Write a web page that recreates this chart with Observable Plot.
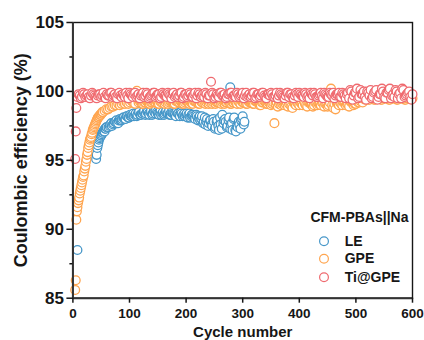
<!DOCTYPE html>
<html>
<head>
<meta charset="utf-8">
<script src="https://cdn.jsdelivr.net/npm/d3@7"></script>
<script src="https://cdn.jsdelivr.net/npm/@observablehq/plot@0.6"></script>
<style>
  html, body { margin: 0; padding: 0; background: #fff; }
  svg { display: block; }
</style>
</head>
<body>
<div id="chart"></div>
<script>
// ---------- data ----------
const seriesNames = ["LE", "GPE", "Ti@GPE"];
const seriesColors = ["#4596C8", "#FFA54F", "#EF6A6F"];
const xTicks = [0, 100, 200, 300, 400, 500, 600];
const yTicks = [85, 90, 95, 100, 105];
const yMinorTicks = [87.5, 92.5, 97.5, 102.5];

// LE (blue)
const leEarlyCycles = [8];
const leEarlyValues = [88.5];
const leRiseStart = 40, leRiseStep = 1;
const leRiseValues = [95.7, 95.1, 95.4, 95.9, 96.1, 96.3, 96.5, 96.6, 96.7, 96.8, 96.8, 96.9, 97.0, 97.0, 97.1, 97.2, 97.1, 97.3, 97.3, 97.4, 97.4];
const leMidStart = 63, leMidStep = 3;
const leMidValues = [97.4, 97.6, 97.5, 97.7, 97.8, 97.7, 97.9, 97.9, 98.0, 98.1, 98.0, 98.2, 98.1, 98.2, 98.3, 98.2, 98.4, 98.3, 98.5, 98.3, 98.4, 98.6, 98.4, 98.5, 98.3, 98.6, 98.4, 98.5, 98.7, 98.4];
const leLateStart = 153, leLateStep = 3;
const leLateValues = [
  98.5, 98.3, 98.5, 98.4, 98.6, 98.4, 98.3, 98.5, 98.4, 98.3,
  98.5, 98.4, 98.2, 98.4, 98.3, 98.2, 98.4, 98.3, 98.1, 98.3,
  98.2, 98.0, 98.2, 98.1, 97.9, 98.2, 97.8, 97.6, 98.0, 97.7,
  97.9, 97.5, 97.8, 97.4, 97.9, 97.2, 97.6, 98.3, 97.9, 97.8,
  97.5, 98.1, 97.6, 97.2, 98.1, 97.1, 97.4, 97.6, 97.9, 98.2,
  97.8];
const leSecondStart = 65, leSecondStep = 3;
const leSecondValues = [
  97.5, 97.7, 97.6, 97.8, 97.9, 97.7, 98.0, 97.9, 98.1, 98.0,
  98.2, 98.1, 98.3, 98.2, 98.4, 98.3, 98.2, 98.5, 98.3, 98.4,
  98.5, 98.3, 98.6, 98.4, 98.5, 98.3, 98.6, 98.4, 98.5, 98.3,
  98.6, 98.4, 98.3, 98.5, 98.4, 98.6, 98.3, 98.5, 98.4, 98.2,
  98.4, 98.3, 98.5, 98.2, 98.4, 98.3, 98.1, 98.4, 98.2, 98.3,
  98.1, 98.3, 97.9, 98.2, 98.0, 97.7, 98.1, 97.8, 97.5, 97.9,
  97.6, 98.0, 97.3, 97.8, 97.5, 98.1, 97.3, 97.7, 98.0, 97.4,
  97.9, 97.3, 97.7, 98.0, 97.2, 97.5, 97.8, 97.3, 98.0, 97.6];
const leOutlierCycles = [278];
const leOutlierValues = [100.3];

// GPE (orange)
const gpeRiseStart = 4, gpeRiseStep = 1;
const gpeRiseValues = [
  85.6, 86.3, 90.7, 91.3, 91.6, 91.9, 92.1, 92.3, 92.6, 92.8,
  93.0, 93.2, 93.4, 93.6, 93.8, 93.9, 94.2, 94.4, 94.6, 94.9,
  95.1, 95.4, 95.6, 95.9, 96.1, 96.3, 96.5, 96.6, 96.7, 96.9,
  97.0, 97.2, 97.3, 97.4, 97.5, 97.6, 97.7, 97.8, 97.9, 98.0,
  98.1, 98.1, 98.2, 98.2, 98.3, 98.3, 98.4, 98.4, 98.5, 98.5];
const gpeMidStart = 56, gpeMidStep = 3;
const gpeMidValues = [98.6, 98.7, 98.7, 98.8, 98.9, 98.9, 99.0, 99.0, 99.1, 99.0, 99.1, 99.2, 99.1, 99.2, 99.1, 99.2, 99.3, 99.2, 99.1, 100.05];
const gpeLateStart = 116, gpeLateStep = 4;
const gpeLateValues = [
  99.2, 99.3, 99.1, 99.2, 99.3, 99.1, 99.2, 99.2, 99.3, 99.1,
  99.2, 99.3, 99.2, 99.1, 99.3, 99.2, 99.1, 99.3, 99.2, 99.2,
  99.1, 99.3, 99.2, 99.2, 99.1, 99.3, 99.2, 99.1, 99.2, 99.3,
  99.2, 99.1, 99.3, 99.2, 99.1, 99.2, 99.3, 99.2, 99.1, 99.2,
  99.3, 99.1, 99.2, 99.2, 99.3, 99.1, 99.2, 99.3, 99.1, 99.2,
  99.2, 99.1, 99.3, 99.2, 99.0, 99.2, 99.3, 99.1, 99.2, 99.1,
  97.7, 99.2, 99.1, 99.0, 99.2, 99.1, 98.9, 99.2, 98.8, 99.1,
  99.2, 99.0, 99.1, 99.3, 99.0, 99.2, 99.1, 98.9, 99.2, 99.0,
  99.1, 99.2, 98.9, 99.1, 99.0, 100.2, 98.8, 98.7, 99.1, 99.2,
  99.0, 99.2, 99.1, 98.9, 99.2, 99.0, 99.1, 99.2, 99.3, 99.2,
  99.4, 99.5, 99.4, 99.5, 99.4, 99.6, 99.5, 99.4, 99.5, 99.6,
  99.5, 99.4, 99.6, 99.5, 99.4, 99.5, 99.6, 99.5, 99.4, 99.5,
  99.6, 99.5];
const gpeSecondStart = 118, gpeSecondStep = 4;
const gpeSecondValues = [
  99.3, 99.1, 99.2, 99.3, 99.1, 99.2, 99.3, 99.2, 99.1, 99.3,
  99.2, 99.1, 99.3, 99.2, 99.2, 99.1, 99.3, 99.2, 99.3, 99.1,
  99.2, 99.3, 99.1, 99.2, 99.3, 99.2, 99.1, 99.3, 99.2, 99.1,
  99.3, 99.2, 99.1, 99.3, 99.2, 99.2, 99.1, 99.3, 99.2, 99.3,
  99.1, 99.2, 99.3, 99.1, 99.2, 99.3, 99.2, 99.1, 99.3, 99.2,
  99.1, 99.3, 99.2, 99.0, 99.2, 99.3, 99.1, 99.2, 99.0, 99.2,
  99.1, 98.9, 99.2, 99.1, 99.0, 99.2, 99.1, 98.9, 99.2, 99.0,
  99.1, 99.2, 99.0, 99.1, 98.9, 99.2, 99.1, 99.0, 99.2, 99.1,
  99.0, 99.2, 99.1, 98.9, 99.2, 99.0, 99.1, 99.2, 99.0, 99.1,
  99.2, 99.0, 99.1, 99.3, 99.2, 99.1, 99.3, 99.2, 99.4, 99.5,
  99.5, 99.4, 99.6, 99.5, 99.4, 99.5, 99.6, 99.4, 99.5, 99.6,
  99.4, 99.5, 99.6, 99.5, 99.4, 99.6, 99.5, 99.4, 99.5, 99.6,
  99.5];

// Ti@GPE (red)
const tiEarlyCycles = [4, 5, 6];
const tiEarlyValues = [95.1, 97.1, 98.8];
const tiStart = 8, tiStep = 4;
const tiValues = [
  99.6, 99.7, 99.6, 99.8, 99.7, 99.6, 99.7, 99.8, 99.6, 99.7,
  99.8, 99.7, 99.6, 99.8, 99.7, 99.9, 99.7, 99.6, 99.8, 99.7,
  99.8, 99.6, 99.7, 99.9, 99.7, 99.8, 99.6, 99.8, 99.7, 99.9,
  99.7, 99.8, 99.6, 99.8, 99.9, 99.7, 99.8, 99.6, 99.8, 99.7,
  99.9, 99.7, 99.8, 99.6, 99.8, 99.7, 99.9, 99.6, 99.8, 99.7,
  99.8, 99.6, 99.9, 99.7, 99.8, 99.7, 99.6, 99.8, 99.7, 100.7,
  99.8, 99.6, 99.7, 99.9, 99.7, 99.8, 99.6, 99.8, 99.9, 99.7,
  99.6, 99.8, 99.7, 99.9, 99.7, 99.6, 99.8, 99.7, 99.9, 99.6,
  99.8, 99.7, 99.9, 99.6, 99.8, 99.7, 99.8, 99.6, 99.9, 99.7,
  99.8, 99.6, 99.7, 99.9, 99.8, 99.6, 99.7, 99.8, 99.9, 99.7,
  99.6, 99.8, 99.7, 99.9, 99.7, 99.8, 99.6, 99.8, 99.7, 99.9,
  99.7, 99.6, 99.8, 99.9, 99.7, 99.8, 99.6, 99.9, 99.7, 99.8,
  99.5, 100.0, 99.7, 99.9, 99.5, 100.1, 99.8, 99.6, 100.0, 99.7,
  99.5, 99.9, 100.1, 99.6, 99.8, 100.0, 99.5, 99.9, 100.2, 99.7,
  99.6, 100.0, 99.8, 99.5, 100.1, 99.7, 99.9, 99.6, 99.8];
const tiSecondStart = 10, tiSecondStep = 4;
const tiSecondValues = [
  99.8, 99.5, 99.9, 99.6, 99.8, 99.5, 99.9, 99.7, 99.5, 99.8,
  99.6, 99.9, 99.5, 99.7, 99.9, 99.6, 99.8, 99.5, 99.9, 99.6,
  99.7, 99.9, 99.5, 99.8, 99.6, 99.9, 99.7, 99.5, 99.8, 99.6,
  99.9, 99.5, 99.7, 99.9, 99.6, 99.8, 99.5, 99.9, 99.7, 99.6,
  99.8, 99.5, 99.9, 99.7, 99.6, 99.9, 99.5, 99.8, 99.6, 99.9,
  99.6, 99.8, 99.5, 99.9, 99.6, 99.8, 99.9, 99.5, 99.7, 99.9,
  99.5, 99.8, 99.6, 99.9, 99.7, 99.5, 99.8, 99.9, 99.6, 99.7,
  99.9, 99.6, 99.8, 99.5, 99.9, 99.7, 99.6, 99.9, 99.5, 99.8,
  99.6, 99.9, 99.7, 99.5, 99.8, 99.9, 99.6, 99.7, 99.5, 99.9,
  99.7, 99.5, 99.9, 99.6, 99.8, 99.5, 99.9, 99.6, 99.8, 99.7,
  99.9, 99.6, 99.5, 99.8, 99.9, 99.6, 99.7, 99.9, 99.5, 99.8,
  99.6, 99.9, 99.7, 99.5, 99.8, 99.9, 99.6, 99.8, 99.5, 99.9,
  100.1, 99.4, 99.9, 100.2, 99.6, 99.8, 100.0, 99.4, 99.9, 100.1,
  99.6, 100.0, 99.4, 99.8, 100.2, 99.6, 99.9, 100.1, 99.5, 99.8,
  100.1, 99.5, 99.9, 100.2, 99.6, 99.8, 100.0, 99.4];

// ---------- build tables ----------
function fromPairs(series, cycles, values) {
  return values.map((v, i) => ({series, cycle: cycles[i], value: v}));
}
function fromRun(series, start, step, values) {
  return values.map((v, i) => ({series, cycle: start + i * step, value: v}));
}
const leData = [
  ...fromPairs("LE", leEarlyCycles, leEarlyValues),
  ...fromRun("LE", leRiseStart, leRiseStep, leRiseValues),
  ...fromRun("LE", leMidStart, leMidStep, leMidValues),
  ...fromRun("LE", leSecondStart, leSecondStep, leSecondValues),
  ...fromRun("LE", leLateStart, leLateStep, leLateValues),
  ...fromPairs("LE", leOutlierCycles, leOutlierValues)
];
const gpeData = [
  ...fromRun("GPE", gpeRiseStart, gpeRiseStep, gpeRiseValues),
  ...fromRun("GPE", gpeMidStart, gpeMidStep, gpeMidValues),
  ...fromRun("GPE", gpeLateStart, gpeLateStep, gpeLateValues),
  ...fromRun("GPE", gpeSecondStart, gpeSecondStep, gpeSecondValues)
];
const tiData = [
  ...fromPairs("Ti@GPE", tiEarlyCycles, tiEarlyValues),
  ...fromRun("Ti@GPE", tiStart, tiStep, tiValues),
  ...fromRun("Ti@GPE", tiSecondStart, tiSecondStep, tiSecondValues)
];
const byCycle = (a, b) => a.cycle - b.cycle;
const allData = [...leData.sort(byCycle), ...gpeData.sort(byCycle), ...tiData.sort(byCycle)];

// ---------- chart ----------
const FONT = "'Liberation Sans', Arial, Helvetica, sans-serif";
const INK = "#161616";
const R = 4.4;

const legendMarks = [];
legendMarks.push(Plot.text(["CFM-PBAs||Na"], {
  text: d => d, frameAnchor: "bottom-right", textAnchor: "end", lineAnchor: "middle",
  dx: -4, dy: -80.5, fontSize: 14, fontWeight: "bold", fill: INK
}));
seriesNames.forEach((name, i) => {
  const off = [-57, -39.4, -21][i];
  legendMarks.push(Plot.dot([name], {
    frameAnchor: "bottom-right", dx: -88.5, dy: off, r: R,
    stroke: seriesColors[i], fill: "white", strokeWidth: 1.2
  }));
  legendMarks.push(Plot.text([name], {
    text: d => d, frameAnchor: "bottom-right", textAnchor: "start", lineAnchor: "middle",
    dx: -67.8, dy: off, fontSize: 14, fontWeight: "bold", fill: INK
  }));
});

const chart = Plot.plot({
  width: 424,
  height: 340,
  marginLeft: 72.4,
  marginRight: 12,
  marginTop: 22,
  marginBottom: 42.3,
  style: {fontFamily: FONT, background: "white", color: INK},
  x: {domain: [0, 600], axis: null},
  y: {domain: [85, 105], axis: null},
  color: {domain: seriesNames, range: seriesColors},
  marks: [
    Plot.dot(allData, {
      x: "cycle", y: "value", stroke: "series", fill: "white",
      r: R, strokeWidth: 1.3
    }),
    Plot.frame({stroke: INK, strokeWidth: 1.4}),
    Plot.ruleX([0], {stroke: "#333", strokeWidth: 2}),
    Plot.ruleY([85], {stroke: "#333", strokeWidth: 2}),
    Plot.axisX({
      ticks: xTicks, tickSize: 5, tickPadding: 5, tickFormat: d => String(d),
      fontSize: 13.5, fontWeight: "bold", label: null, strokeWidth: 1.5, stroke: INK, fill: INK
    }),
    Plot.axisY({
      ticks: yTicks, tickSize: 6, tickPadding: 3, tickFormat: d => String(d),
      fontSize: 17, fontWeight: "bold", label: null, strokeWidth: 1.5, stroke: INK, fill: INK
    }),
    Plot.axisY({
      ticks: yMinorTicks, tickSize: 3, text: null, label: null, strokeWidth: 1.5, stroke: INK
    }),
    Plot.text(["Coulombic efficiency (%)"], {
      text: d => d, frameAnchor: "left", textAnchor: "middle", rotate: -90, dx: -51.5,
      fontSize: 18, fontWeight: "bold", fill: INK, lineAnchor: "middle"
    }),
    Plot.text(["Cycle number"], {
      text: d => d, frameAnchor: "bottom", dy: 33.5, lineAnchor: "middle",
      fontSize: 15, fontWeight: "bold", fill: INK
    }),
    ...legendMarks
  ]
});
document.getElementById("chart").appendChild(chart);
</script>
</body>
</html>
